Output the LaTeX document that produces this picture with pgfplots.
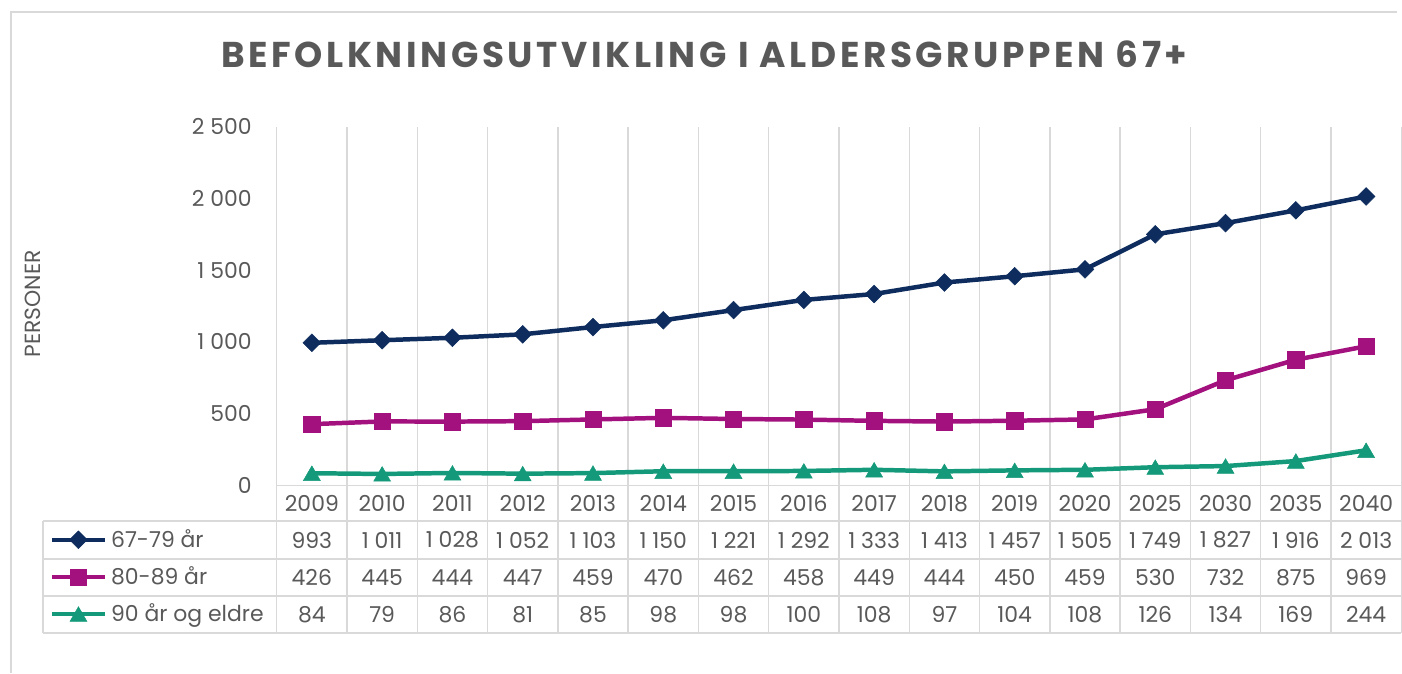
\documentclass[border=0pt]{standalone}
\usepackage{pgfplots}
\pgfplotsset{compat=1.18}
\usepackage{pgfplotstable}
\usepackage{fontspec}
\setmainfont{Poppins}
\newfontfamily\titlefont[LetterSpace=10]{Poppins}
\definecolor{txt}{HTML}{595959}
\definecolor{gridc}{HTML}{D9D9D9}
\definecolor{navy}{HTML}{0E2D5E}
\definecolor{mag}{HTML}{A3117E}
\definecolor{teal}{HTML}{14997A}

\pgfplotstableread{
i year a b c
0 2009 993 426 84
1 2010 1011 445 79
2 2011 1028 444 86
3 2012 1052 447 81
4 2013 1103 459 85
5 2014 1150 470 98
6 2015 1221 462 98
7 2016 1292 458 100
8 2017 1333 449 108
9 2018 1413 444 97
10 2019 1457 450 104
11 2020 1505 459 108
12 2025 1749 530 126
13 2030 1827 732 134
14 2035 1916 875 169
15 2040 2013 969 244
}\data

\newcommand{\tf}{\fontsize{22pt}{26pt}\selectfont}

\begin{document}
\begin{tikzpicture}
\begin{axis}[
  scale only axis, width=1128.5pt, height=360pt,
  xmin=-0.5, xmax=15.5, ymin=0, ymax=2500,
  clip=false,
  axis line style={draw=none},
  major tick length=0pt, minor tick length=0pt,
  xtick={0,...,15},
  xticklabels from table={\data}{year},
  xticklabel style={anchor=center, yshift=-18pt, inner sep=0pt, text=txt, font=\tf},
  ytick={0,500,...,2500},
  yticklabel style={anchor=east, inner sep=0pt, xshift=-25pt, text=txt, font=\tf},
  /pgf/number format/.cd, 1000 sep={\ }, assume math mode=true, /pgfplots/.cd,
  minor xtick={-0.5,0.5,...,15.5},
  xminorgrids, minor grid style={gridc, line width=1.5pt},
  title={\titlefont\bfseries BEFOLKNINGSUTVIKLING I ALDERSGRUPPEN 67+},
  title style={at={(axis description cs:0.3804,1.186)}, anchor=center, inner sep=0pt, text=txt, font=\fontsize{36pt}{40pt}\selectfont},
  ylabel={PERSONER},
  ylabel style={at={(axis description cs:-0.2168,0.5056)}, anchor=center, inner sep=0pt, text=txt, font=\tf},
  legend style={at={(axis description cs:-0.20178,-0.1)}, anchor=north west, draw=none, fill=none,
    inner sep=0pt, outer sep=0pt, row sep=0pt, column sep=4pt,
    nodes={inner sep=0pt, text=txt, font=\tf, text height=26.3pt, text depth=11pt}},
  legend cell align=left,
  legend image code/.code={\draw[mark repeat=2, mark phase=2] plot coordinates {(0pt,0pt)(26.5pt,0pt)(53pt,0pt)};},
  every node near coord/.append style={anchor=center, inner sep=0pt, text=txt, font=\tf, text height=, text depth=},
]
\addplot[navy, line width=4.5pt, mark=square*, mark size=6.3pt, mark options={rotate=45, line width=0.5pt}] table[x=i, y=a]{\data};
\addlegendentry{67-79 år}
\addplot[mag, line width=4.5pt, mark=square*, mark size=8.2pt, mark options={line width=0.5pt}] table[x=i, y=b]{\data};
\addlegendentry{80-89 år}
\addplot[teal, line width=4.5pt, mark=triangle*, mark size=9.8pt, mark options={line width=0.5pt, yshift=-2.4pt}] table[x=i, y=c]{\data};
\addlegendentry{90 år og eldre}

\addplot[draw=none, mark=none, nodes near coords, point meta=\thisrow{a}, forget plot] table[x=i, y expr=-382]{\data};
\addplot[draw=none, mark=none, nodes near coords, point meta=\thisrow{b}, forget plot] table[x=i, y expr=-642]{\data};
\addplot[draw=none, mark=none, nodes near coords, point meta=\thisrow{c}, forget plot] table[x=i, y expr=-899]{\data};

\draw[gridc, line width=1.5pt] (axis cs:-0.5,0) -- (axis cs:15.5,0);
\draw[gridc, line width=1.5pt] (axis cs:-3.828,-250) -- (axis cs:15.5,-250);
\draw[gridc, line width=1.5pt] (axis cs:-3.828,-514) -- (axis cs:15.5,-514);
\draw[gridc, line width=1.5pt] (axis cs:-3.828,-771) -- (axis cs:15.5,-771);
\draw[gridc, line width=1.5pt] (axis cs:-3.828,-1028) -- (axis cs:15.5,-1028);
\draw[gridc, line width=1.5pt] (axis cs:-3.828,-250) -- (axis cs:-3.828,-1028);
\pgfplotsinvokeforeach{-0.5,0.5,...,15.5}{\draw[gridc, line width=1.5pt] (axis cs:#1,0) -- (axis cs:#1,-1028);}
\end{axis}
\draw[gridc, line width=1.5pt] (-266.7pt,-188pt) -- (-266.7pt,475pt) -- (1124.3pt,475pt);
\path[use as bounding box] (-277.7pt,-188pt) rectangle (1124.3pt,487pt);
\end{tikzpicture}
\end{document}
